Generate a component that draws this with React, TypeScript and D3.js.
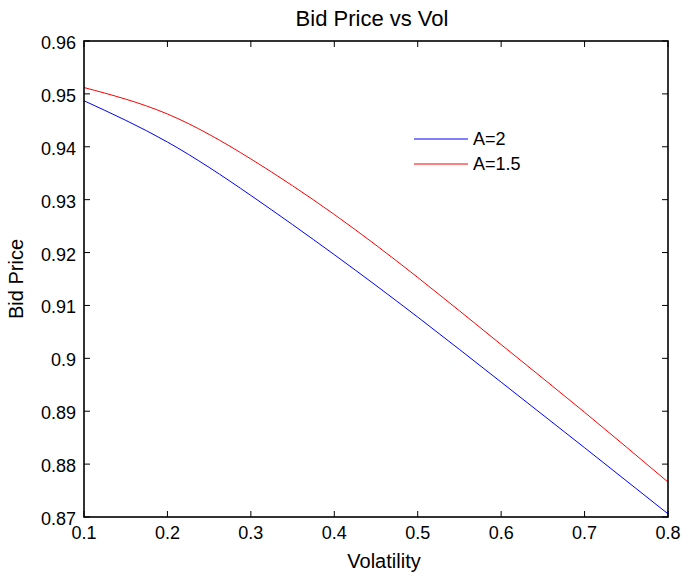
import React, { useRef, useEffect } from 'react';
import * as d3 from 'd3';

const volatility = [0.1, 0.2, 0.3, 0.4, 0.5, 0.6, 0.7, 0.8];
const bidA2 = [0.9487, 0.9409, 0.9308, 0.9196, 0.9078, 0.8955, 0.8831, 0.8706];
const bidA15 = [0.9512, 0.9462, 0.9377, 0.9272, 0.9153, 0.9026, 0.8898, 0.8766];
const xTicks = [0.1, 0.2, 0.3, 0.4, 0.5, 0.6, 0.7, 0.8];
const yTicks = [0.87, 0.88, 0.89, 0.9, 0.91, 0.92, 0.93, 0.94, 0.95, 0.96];
const seriesNames = ['A=2', 'A=1.5'];

const App = () => {
  const svgRef = useRef<SVGSVGElement>(null);
  useEffect(() => {
    const W = 682, H = 576;
    const margin = { top: 41, right: 14, bottom: 59, left: 84 };
    const width = W - margin.left - margin.right;
    const height = H - margin.top - margin.bottom;
    const font = 'Helvetica, Arial, "Liberation Sans", sans-serif';

    const root = d3.select(svgRef.current)
      .attr('width', W)
      .attr('height', H);
    root.selectAll('*').remove();
    root.append('rect').attr('width', W).attr('height', H).attr('fill', 'white');

    const svg = root.append('g')
      .attr('transform', `translate(${margin.left},${margin.top})`);

    const x = d3.scaleLinear().domain([0.1, 0.8]).range([0, width]);
    const y = d3.scaleLinear().domain([0.87, 0.96]).range([height, 0]);

    const line = d3.line<number>()
      .x((d, i) => x(volatility[i]))
      .y(d => y(d))
      .curve(d3.curveNatural);

    svg.append('path').datum(bidA2)
      .attr('d', line)
      .attr('fill', 'none')
      .attr('stroke', '#0000ff')
      .attr('stroke-width', 1);
    svg.append('path').datum(bidA15)
      .attr('d', line)
      .attr('fill', 'none')
      .attr('stroke', '#ff0000')
      .attr('stroke-width', 1);

    // ticks (inward, mirrored on top/right like matlab)
    const tl = 6;
    xTicks.forEach(t => {
      svg.append('line').attr('x1', x(t)).attr('x2', x(t)).attr('y1', height).attr('y2', height - tl).attr('stroke', 'black');
      svg.append('line').attr('x1', x(t)).attr('x2', x(t)).attr('y1', 0).attr('y2', tl).attr('stroke', 'black');
      svg.append('text')
        .attr('x', x(t)).attr('y', height + 22)
        .attr('text-anchor', 'middle')
        .style('font-family', font).style('font-size', '18px')
        .text(d3.format('')(t));
    });
    yTicks.forEach(t => {
      svg.append('line').attr('x1', 0).attr('x2', tl).attr('y1', y(t)).attr('y2', y(t)).attr('stroke', 'black');
      svg.append('line').attr('x1', width).attr('x2', width - tl).attr('y1', y(t)).attr('y2', y(t)).attr('stroke', 'black');
      svg.append('text')
        .attr('x', -8).attr('y', y(t) + 8)
        .attr('text-anchor', 'end')
        .style('font-family', font).style('font-size', '18px')
        .text(d3.format('')(+t.toFixed(2)));
    });

    svg.append('rect')
      .attr('width', width).attr('height', height)
      .attr('fill', 'none')
      .attr('stroke', 'black')
      .attr('stroke-width', 1.6);

    // title + axis labels
    root.append('text')
      .attr('x', 372).attr('y', 26)
      .attr('text-anchor', 'middle')
      .style('font-family', font).style('font-size', '22px')
      .text('Bid Price vs Vol');
    root.append('text')
      .attr('x', 384).attr('y', 568)
      .attr('text-anchor', 'middle')
      .style('font-family', font).style('font-size', '20px')
      .text('Volatility');
    root.append('text')
      .attr('transform', `translate(23,${margin.top + height / 2}) rotate(-90)`)
      .attr('text-anchor', 'middle')
      .style('font-family', font).style('font-size', '20px')
      .text('Bid Price');

    // legend
    const legend = root.append('g').attr('transform', 'translate(414,139)');
    legend.selectAll('line')
      .data(seriesNames)
      .join('line')
      .attr('x1', 0).attr('x2', 54)
      .attr('y1', (d, i) => i * 25).attr('y2', (d, i) => i * 25)
      .attr('stroke', (d, i) => (i === 0 ? '#0000ff' : '#ff0000'));
    legend.selectAll('text')
      .data(seriesNames)
      .join('text')
      .attr('x', 59)
      .attr('y', (d, i) => i * 25 + 6)
      .style('font-family', font).style('font-size', '18px')
      .text(d => d);
  }, []);
  return (
    <div style={{ position: 'absolute', left: 0, top: 0 }}>
      <svg ref={svgRef} style={{ display: 'block' }}></svg>
    </div>
  );
};

export default App;
